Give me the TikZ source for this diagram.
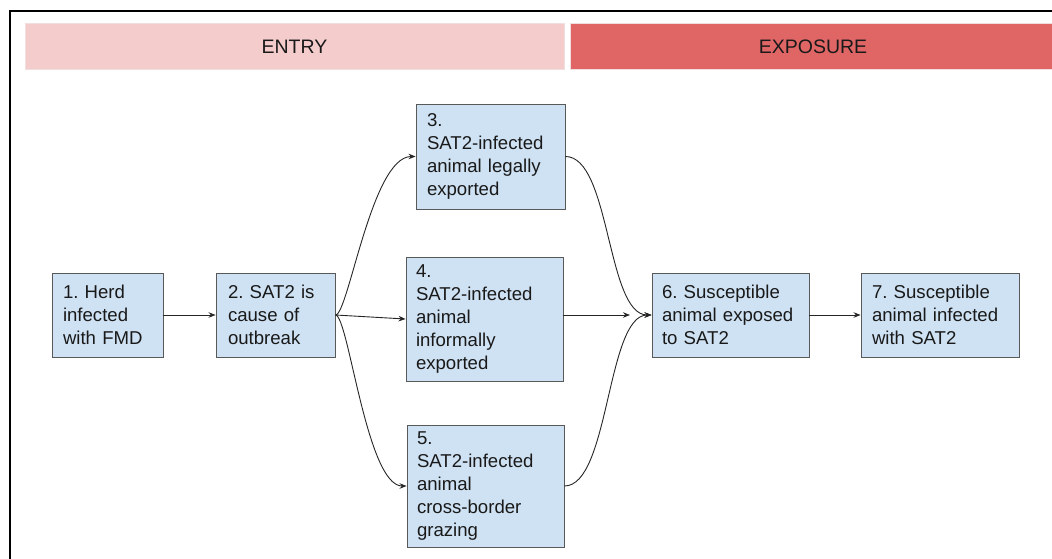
\documentclass[tikz,border=0pt]{standalone}
\usepackage{fontspec}
\setmainfont{Liberation Sans}
\usetikzlibrary{arrows.meta}
\definecolor{boxfill}{HTML}{CFE2F3}
\definecolor{boxline}{HTML}{595959}
\definecolor{entryfill}{HTML}{F4CCCC}
\definecolor{expofill}{HTML}{E06666}
\definecolor{barline}{HTML}{F1DEDE}
\frenchspacing
\begin{document}
\begin{tikzpicture}[x=1pt,y=-1pt,
  box/.style={draw=boxline, fill=boxfill, line width=0.9pt, inner sep=0pt, align=left,
    font=\frenchspacing\fontsize{18.6}{22.8}\selectfont, text=black!90},
  bar/.style={draw=barline, line width=0.8pt, inner sep=0pt,
    font=\fontsize{19.5}{22}\selectfont, text=black!90},
  conn/.style={draw=black!85, line width=0.9pt},
  arr/.style={conn, -{Stealth[length=7pt,width=5.5pt]}}
]
\useasboundingbox (0,0) rectangle (1052,559);
\begin{scope}
  \clip (0,0) rectangle (1052,559);
  \draw[line width=2pt] (10,11) rectangle (1100,620);
  \node[bar, fill=entryfill, minimum width=539pt, minimum height=46pt] (entry) at (294.5,46.5) {ENTRY};
  \node[bar, fill=expofill, minimum width=486pt, minimum height=46pt] (expo) at (813,46.5) {EXPOSURE};
\end{scope}

\node[box, text width=89pt, minimum width=111pt, minimum height=84pt] (b1) at (107.5,315) {1. Herd\\infected\\with FMD};
\node[box, text width=95pt, minimum width=119pt, minimum height=84pt] (b2) at (275.5,315) {2. SAT2 is\\cause of\\outbreak};
\node[box, text width=127pt, minimum width=149pt, minimum height=105pt] (b3) at (490.5,156.5) {3.\\SAT2-infected\\animal legally\\exported};
\node[box, text width=137pt, minimum width=157pt, minimum height=124pt] (b4) at (484.5,319) {4.\\SAT2-infected\\animal\\informally\\exported};
\node[box, text width=137pt, minimum width=157pt, minimum height=122pt] (b5) at (485.5,486) {5.\\SAT2-infected\\animal\\cross-border\\grazing};
\node[box, text width=137pt, minimum width=157pt, minimum height=84pt] (b6) at (730.5,315) {6. Susceptible\\animal exposed\\to SAT2};
\node[box, text width=136pt, minimum width=158pt, minimum height=84pt] (b7) at (940,315) {7. Susceptible\\animal infected\\with SAT2};

\coordinate (e46) at (630,315);

\draw[arr] (b1) -- (b2);
\draw[arr] (b2.east) .. controls +(13,0) and +(-44,0) .. (b3.west);
\draw[arr] (b2.east) -- (b4.west);
\draw[arr] (b2.east) .. controls +(13,0) and +(-40,0) .. (b5.west);
\draw[arr] (b3.east) .. controls +(45,0) and +(-45,0) .. (b6.west);
\draw[arr] (b5.east) .. controls +(45,0) and +(-45,0) .. (b6.west);
\draw[arr] (b4.east |- e46) -- (e46);
\draw[arr] (b6) -- (b7);
\end{tikzpicture}
\end{document}
